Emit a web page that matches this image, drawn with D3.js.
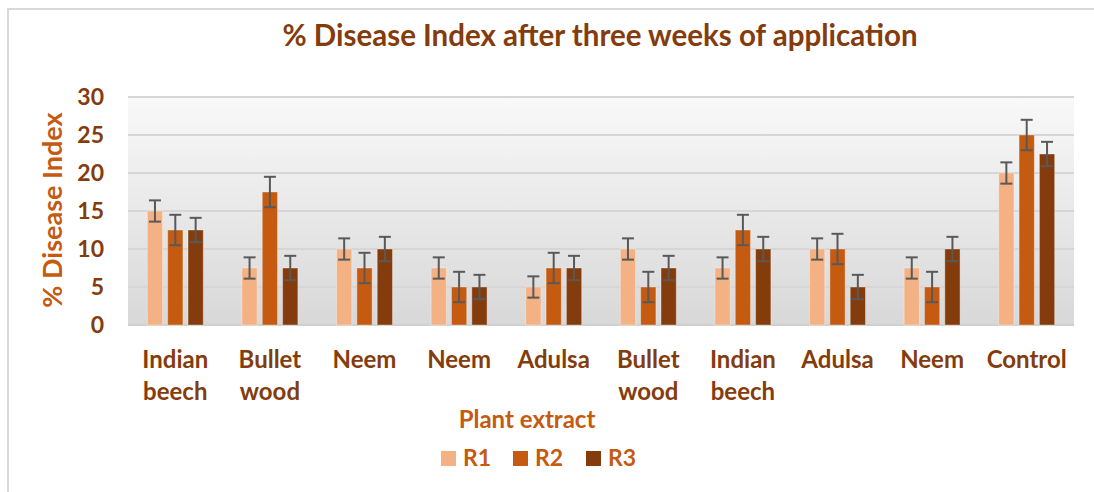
<!DOCTYPE html>
<html>
<head>
<meta charset="utf-8">
<script src="https://cdn.jsdelivr.net/npm/d3@7"></script>
<style>
  body { margin: 0; background: #fff; }
  svg text { font-family: Lato, "Open Sans", sans-serif; font-weight: bold; }
</style>
</head>
<body>
<svg id="chart" width="1094" height="492"></svg>
<script>
// data
const categories = [
  ['Indian', 'beech'], ['Bullet', 'wood'], ['Neem'], ['Neem'], ['Adulsa'],
  ['Bullet', 'wood'], ['Indian', 'beech'], ['Adulsa'], ['Neem'], ['Control']
];
const seriesNames = ['R1', 'R2', 'R3'];
const r1 = [15, 7.5, 10, 7.5, 5, 10, 7.5, 10, 7.5, 20];
const r2 = [12.5, 17.5, 7.5, 5, 7.5, 5, 12.5, 10, 5, 25];
const r3 = [12.5, 7.5, 10, 5, 7.5, 7.5, 10, 5, 10, 22.5];
const errors = [1.4, 2.0, 1.6]; // one error amount per series
const yTicks = [0, 5, 10, 15, 20, 25, 30];
const colors = ['#F4B183', '#C55A11', '#843C0C'];

const series = [r1, r2, r3];
const svg = d3.select('#chart');

// outer chart frame
svg.append('rect')
  .attr('x', 8).attr('y', 9).attr('width', 1100).attr('height', 500)
  .attr('fill', 'none').attr('stroke', '#d9d9d9').attr('stroke-width', 2);

const plot = { left: 128, right: 1074, top: 97, bottom: 325 };

const x = d3.scaleBand()
  .domain(d3.range(categories.length))
  .range([plot.left, plot.right])
  .paddingInner(0).paddingOuter(0);
const xInner = d3.scaleBand()
  .domain(d3.range(series.length))
  .range([0, x.bandwidth()])
  .paddingInner(0.25).paddingOuter(0.95);
const y = d3.scaleLinear().domain([0, 30]).range([plot.bottom, plot.top]);

// plot background gradient
const defs = svg.append('defs');
const grad = defs.append('linearGradient').attr('id', 'bg')
  .attr('x1', 0).attr('y1', 0).attr('x2', 0).attr('y2', 1);
grad.append('stop').attr('offset', '0%').attr('stop-color', '#f9f9f9');
grad.append('stop').attr('offset', '100%').attr('stop-color', '#d8d8d8');
svg.append('rect')
  .attr('x', plot.left).attr('y', plot.top)
  .attr('width', plot.right - plot.left).attr('height', plot.bottom - plot.top)
  .attr('fill', 'url(#bg)');

// gridlines
svg.append('g').selectAll('line').data(yTicks).join('line')
  .attr('x1', plot.left).attr('x2', plot.right)
  .attr('y1', d => y(d)).attr('y2', d => y(d))
  .attr('stroke', d => d === 0 ? '#d0d0d0' : '#d6d6d6').attr('stroke-width', 2);

// y tick labels
svg.append('g').selectAll('text').data(yTicks).join('text')
  .attr('x', 104).attr('y', d => y(d)).attr('dy', '0.36em')
  .attr('text-anchor', 'end').attr('font-size', 23).attr('fill', '#843C0C')
  .text(d => d);

// bars
series.forEach((vals, s) => {
  const g = svg.append('g');
  g.selectAll('rect').data(vals).join('rect')
    .attr('x', (d, i) => x(i) + xInner(s))
    .attr('width', xInner.bandwidth())
    .attr('y', d => y(d))
    .attr('height', d => y(0) - y(d))
    .attr('fill', colors[s])
    .attr('stroke', 'rgba(255,255,255,0.35)').attr('stroke-width', 1);

  const eb = g.selectAll('g.err').data(vals).join('g').attr('class', 'err')
    .attr('stroke', '#595959').attr('stroke-width', 2);
  const cx = i => x(i) + xInner(s) + xInner.bandwidth() / 2;
  eb.append('line')
    .attr('x1', (d, i) => cx(i)).attr('x2', (d, i) => cx(i))
    .attr('y1', d => y(d + errors[s])).attr('y2', d => y(d - errors[s]));
  eb.append('line')
    .attr('x1', (d, i) => cx(i) - 6).attr('x2', (d, i) => cx(i) + 6)
    .attr('y1', d => y(d + errors[s])).attr('y2', d => y(d + errors[s]));
  eb.append('line')
    .attr('x1', (d, i) => cx(i) - 6).attr('x2', (d, i) => cx(i) + 6)
    .attr('y1', d => y(d - errors[s])).attr('y2', d => y(d - errors[s]));
});

// category labels
const cat = svg.append('g').selectAll('text').data(categories).join('text')
  .attr('x', (d, i) => x(i) + x.bandwidth() / 2)
  .attr('y', 368)
  .attr('text-anchor', 'middle').attr('font-size', 24).attr('fill', '#843C0C');
cat.selectAll('tspan').data(d => d).join('tspan')
  .attr('x', function () { return d3.select(this.parentNode).attr('x'); })
  .attr('dy', (d, i) => i === 0 ? 0 : 32)
  .text(d => d);

// title
svg.append('text')
  .attr('x', 600).attr('y', 46).attr('text-anchor', 'middle')
  .attr('font-size', 29.5).attr('fill', '#843C0C')
  .text('% Disease Index after three weeks of application');

// y axis title
svg.append('text')
  .attr('transform', 'translate(62,210) rotate(-90)')
  .attr('text-anchor', 'middle').attr('font-size', 27).attr('fill', '#C55A11')
  .text('% Disease Index');

// x axis title
svg.append('text')
  .attr('x', 527).attr('y', 428).attr('text-anchor', 'middle')
  .attr('font-size', 24).attr('fill', '#C55A11')
  .text('Plant extract');

// legend
const legend = svg.append('g');
const legendX = [441, 513, 586];
seriesNames.forEach((name, s) => {
  legend.append('rect')
    .attr('x', legendX[s]).attr('y', 451).attr('width', 15).attr('height', 15)
    .attr('fill', colors[s]);
  legend.append('text')
    .attr('x', legendX[s] + 22).attr('y', 466)
    .attr('font-size', 23).attr('fill', '#C55A11')
    .text(name);
});
</script>
</body>
</html>
